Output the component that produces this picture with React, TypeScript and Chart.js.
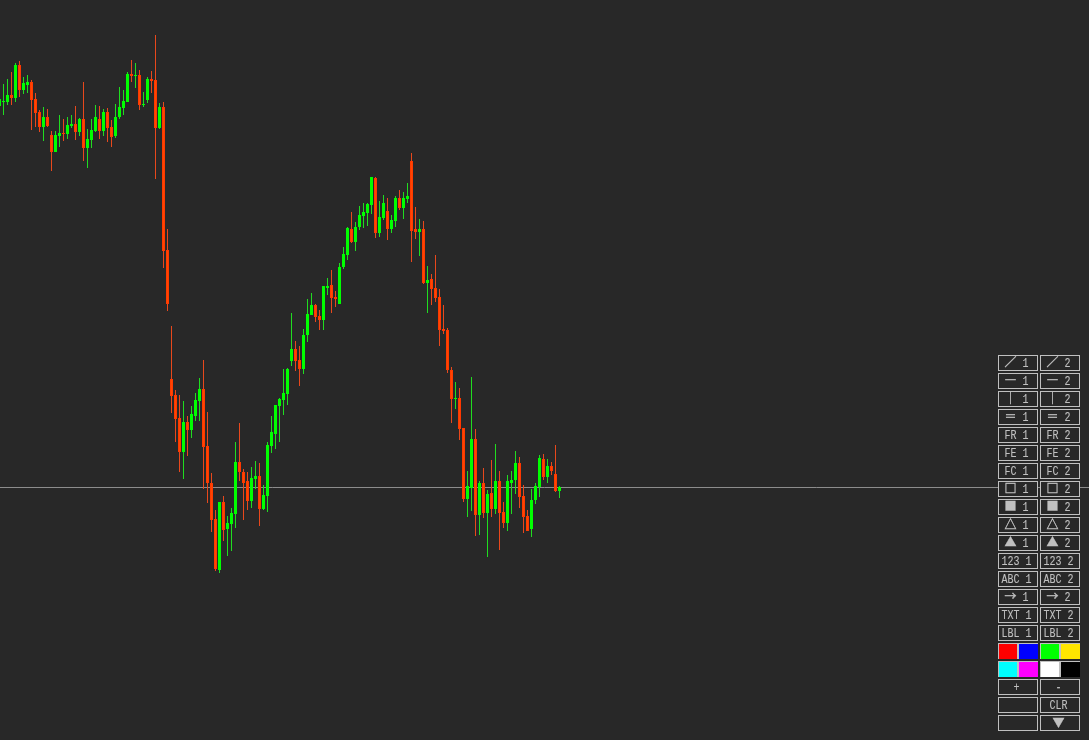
import React, { useEffect, useRef } from "react";
import { Chart, registerables } from "chart.js";

Chart.register(...registerables);

const opens = [634,638,638,645,642,675,650,655,658,641,628,613,623,605,588,604,607,606,614,616,608,621,592,600,609,621,609,628,613,604,623,632,638,666,664,665,635,640,661,660,612,633,490,361,345,322,288,318,310,324,339,351,294,257,221,170,238,211,216,226,278,268,259,239,261,264,231,244,294,306,334,340,346,379,391,380,371,405,425,435,424,420,452,455,443,436,473,485,511,498,513,524,527,535,562,507,522,529,511,519,542,532,541,579,511,508,511,457,461,452,443,411,410,370,341,342,312,241,252,301,225,257,227,247,231,259,228,217,257,260,277,244,224,211,240,253,281,263,274,266,249];
const closes = [641,639,645,642,675,650,657,658,640,627,613,623,614,588,605,607,606,615,616,608,621,592,601,610,623,609,628,612,603,623,633,639,666,664,665,635,636,661,659,612,633,489,436,344,321,288,318,310,326,340,351,293,257,220,171,238,210,217,227,278,268,257,239,262,264,231,245,295,308,335,341,347,371,391,379,371,405,426,435,423,420,454,454,442,441,473,486,512,498,513,525,528,536,563,507,523,537,511,520,542,532,542,544,509,508,511,457,460,451,442,410,409,370,341,342,311,241,254,301,225,257,227,246,231,259,227,217,259,260,277,243,223,209,240,254,282,263,274,269,249,253];
const highs = [643,656,661,668,677,679,663,665,660,647,630,633,631,609,609,625,621,623,625,634,622,658,611,621,635,634,631,632,620,636,653,650,668,680,677,670,648,663,669,705,637,638,511,414,350,345,339,324,334,347,362,380,328,267,230,238,244,224,232,298,317,271,268,273,279,277,255,298,324,335,342,371,372,427,399,394,411,441,447,436,430,454,462,470,449,477,493,513,528,518,534,537,537,563,563,539,545,542,525,544,550,548,557,587,533,521,519,474,466,485,451,435,412,373,358,352,312,269,363,311,259,272,250,280,296,269,238,265,269,289,283,255,230,251,257,285,286,281,278,295,254];
const lows = [634,625,635,635,638,643,646,647,610,613,608,599,613,569,588,593,599,601,612,600,604,579,572,592,608,601,604,598,593,602,621,625,638,658,652,630,633,637,647,561,611,472,429,327,298,268,261,284,302,319,319,251,237,208,169,167,199,184,189,212,259,220,230,232,251,214,230,228,287,291,298,325,335,374,369,354,366,398,425,418,410,410,445,427,433,436,471,480,497,489,510,512,514,526,502,503,520,500,507,513,530,521,537,478,501,484,456,427,435,438,394,406,367,317,331,300,238,223,229,204,205,222,183,223,226,190,212,209,226,246,232,207,209,203,236,243,260,257,265,248,242];
const lastPriceLevel = [252.5, 252.5];

const leftLabels = ["／ 1","― 1","｜ 1","＝ 1","FR 1","FE 1","FC 1","□ 1","■ 1","△ 1","▲ 1","123 1","ABC 1","→ 1","TXT 1","LBL 1","","","+","",""];
const rightLabels = ["／ 2","― 2","｜ 2","＝ 2","FR 2","FE 2","FC 2","□ 2","■ 2","△ 2","▲ 2","123 2","ABC 2","→ 2","TXT 2","LBL 2","","","-","CLR","▼"];
const swatchRows: Record<number, string[]> = {
  16: ["#ff0000", "#0000ff", "#00ff00", "#ffe600"],
  17: ["#00ffff", "#ff00ff", "#ffffff", "#000000"],
};

const BG = "#282828";
const GREEN = "#00ff00";
const RED_FILL = "#ff4800";
const RED_EDGE = "#ff3800";
const GREEN_WICK = "#20dc20";
const RED_WICK = "#e8481c";
const PANEL = "#c0c0c0";

const isUp = (i: number) => closes[i] >= opens[i];

function drawLabel(ctx: CanvasRenderingContext2D, label: string, cx: number, baseline: number) {
  const isNarrow = (ch: string) => ch.charCodeAt(0) < 128;
  const adv = (ch: string) => (isNarrow(ch) ? 6 : 12);
  const total = [...label].reduce((s, ch) => s + adv(ch), 0);
  let x = cx - total / 2;
  ctx.textAlign = "left";
  ctx.textBaseline = "alphabetic";
  ctx.strokeStyle = ctx.fillStyle as string;
  for (const ch of label) {
    ctx.save();
    if (isNarrow(ch)) {
      ctx.font = '13px "Liberation Mono"';
      ctx.translate(x, baseline);
      ctx.scale(6 / 7.8, 1);
      ctx.lineWidth = 0.1;
      ctx.fillText(ch, 0, 0);
      ctx.strokeText(ch, 0, 0);
    } else {
      ctx.font = '12px "Noto Sans CJK JP"';
      ctx.lineWidth = 0.35;
      ctx.fillText(ch, x, baseline);
      ctx.strokeText(ch, x, baseline);
    }
    ctx.restore();
    x += adv(ch);
  }
}

const panelPlugin = {
  id: "toolPanel",
  afterDatasetsDraw(chart: Chart) {
    const ctx = chart.ctx;
    ctx.save();
    const cols = [998, 1040];
    const w = 40;
    const h = 16;
    leftLabels.forEach((_, r) => {
      const y = 355 + r * 18;
      const swatches = swatchRows[r];
      cols.forEach((x, c) => {
        ctx.fillStyle = BG;
        ctx.fillRect(x, y, w, h);
        if (swatches) {
          const a = swatches[c * 2];
          const b = swatches[c * 2 + 1];
          ctx.fillStyle = PANEL;
          ctx.fillRect(x, y, w, h);
          ctx.fillStyle = a;
          ctx.fillRect(x + 1, y + 1, 18, h - 1);
          ctx.fillStyle = b;
          ctx.fillRect(x + 21, y + 1, 19, h - 1);
        } else {
          ctx.strokeStyle = PANEL;
          ctx.lineWidth = 1;
          ctx.strokeRect(x + 0.5, y + 0.5, w - 1, h - 1);
          ctx.fillStyle = PANEL;
          const label = (c === 0 ? leftLabels : rightLabels)[r];
          if (label) drawLabel(ctx, label, x + 18.5, y + 12);
        }
      });
    });
    ctx.restore();
  },
};

export default function App() {
  const ref = useRef<HTMLCanvasElement>(null);
  useEffect(() => {
    if (!ref.current) return;
    const idx = opens.map((_, i) => i);
    const chart = new Chart(ref.current, {
      type: "bar",
      data: {
        datasets: [
          {
            type: "line",
            order: 3,
            data: [
              { x: 0.125, y: lastPriceLevel[0] },
              { x: 272.375, y: lastPriceLevel[1] },
            ],
            borderColor: "#8c8c8c",
            borderWidth: 1,
            pointRadius: 0,
          },
          {
            order: 2,
            data: idx.map((i) => ({ x: i, y: [lows[i], highs[i]] })),
            barThickness: 1,
            backgroundColor: idx.map((i) => (isUp(i) ? GREEN_WICK : RED_WICK)),
            borderWidth: 0,
            inflateAmount: 0,
            grouped: false,
          },
          {
            order: 1,
            data: idx.map((i) => ({ x: i, y: [opens[i], closes[i]] })),
            barThickness: 3,
            backgroundColor: idx.map((i) => (isUp(i) ? GREEN : RED_FILL)),
            borderColor: idx.map((i) => (isUp(i) ? GREEN : RED_EDGE)),
            borderWidth: 1,
            borderSkipped: false,
            inflateAmount: 0,
            grouped: false,
          },
        ] as any,
      },
      options: {
        animation: false,
        responsive: false,
        events: [],
        layout: { padding: 0 },
        plugins: { legend: { display: false }, tooltip: { enabled: false }, title: { display: false } },
        scales: {
          x: { type: "linear", min: 0.125, max: 272.375, offset: false, display: false },
          y: { type: "linear", min: 0, max: 740, display: false },
        },
      },
      plugins: [panelPlugin],
    });
    return () => chart.destroy();
  }, []);
  return (
    <div style={{ position: "fixed", left: 0, top: 0, width: 1089, height: 740, background: BG, overflow: "hidden" }}>
      <canvas ref={ref} width={1089} height={740} style={{ display: "block" }} />
    </div>
  );
}
